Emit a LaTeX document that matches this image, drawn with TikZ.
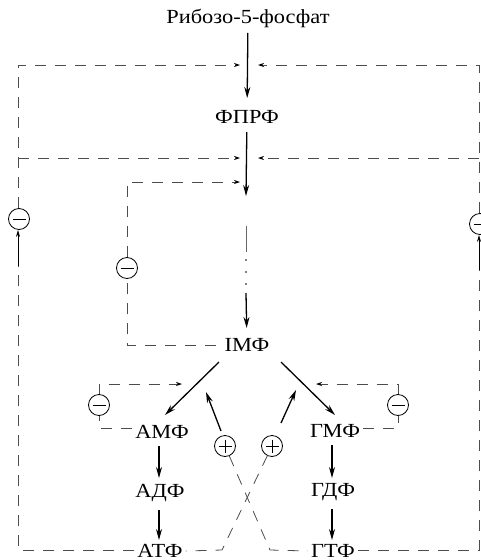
\documentclass[tikz,border=0pt]{standalone}
\usepackage{fontspec}
\setmainfont[FakeStretch=1.12]{Liberation Serif}
\usetikzlibrary{arrows.meta,calc}
\begin{document}
\begin{tikzpicture}[x=1pt,y=-1pt,
  lbl/.style={font=\fontsize{20}{24}\selectfont, inner sep=3pt},
  main/.style={line width=1.3pt, -{Stealth[length=11pt,width=6pt]}},
  fb/.style={draw=black!70, line width=0.8pt, dash pattern=on 11pt off 9pt},
  fbtip/.style={fb, -{Stealth[length=6pt,width=4pt,black]}},
  inarrow/.style={line width=1pt, -{Stealth[length=7pt,width=4pt]}},
  sign/.style={circle, draw, line width=0.8pt, minimum size=21pt, inner sep=0pt},
  minussign/.style={sign, path picture={\draw[line width=0.8pt] ([xshift=4pt]path picture bounding box.west) -- ([xshift=-4pt]path picture bounding box.east);}},
  plussign/.style={sign, path picture={\draw[line width=0.8pt] ([xshift=4pt]path picture bounding box.west) -- ([xshift=-4pt]path picture bounding box.east); \draw[line width=0.8pt] ([yshift=-4pt]path picture bounding box.north) -- ([yshift=4pt]path picture bounding box.south);}},
]
\useasboundingbox (0,0) rectangle (481,560);

% text nodes
\node[lbl] (rib) at (248,18) {Рибозо-5-фосфат};
\node[lbl] (fprf) at (247,117) {ФПРФ};
\node[lbl] (imf) at (247,345) {IМФ};
\node[lbl] (amf) at (162,432) {АМФ};
\node[lbl] (adf) at (160,493) {АДФ};
\node[lbl] (atf) at (160,551) {АТФ};
\node[lbl] (gmf) at (335,431) {ГМФ};
\node[lbl] (gdf) at (333,492) {ГДФ};
\node[lbl] (gtf) at (333,551) {ГТФ};

% signs
\node[minussign] (mL) at (19,219) {};
\node[minussign] (mR) at (480,224) {};
\node[minussign] (mI) at (127,268) {};
\node[minussign] (mA) at (99,405) {};
\node[minussign] (mG) at (398,405) {};
\node[plussign] (pA) at (225,446) {};
\node[plussign] (pG) at (272,446) {};

% coordinates
\coordinate (a1) at (246,65);
\coordinate (a2) at (246,158);
\coordinate (a3) at (246,182);
\coordinate (c1) at (246,196);
\coordinate (d1) at (246,226);
\coordinate (d2) at (246,252);
\coordinate (d3) at (246,293);
\coordinate (tA) at (206,392);
\coordinate (tG) at (296,390);
\coordinate (tA2) at (182,384);
\coordinate (tG2) at (316,384);
\coordinate (mLin) at (18,266);
\coordinate (mRin) at (479,270);
\coordinate (xA) at (270,550);
\coordinate (xG) at (222,550);

% main pathway
\draw[main, shorten <=15pt, shorten >=19pt] (rib.center) -- (fprf.center);
\draw[main, shorten <=15pt] (fprf.center) -- (c1);
\draw[line width=0.9pt, black!60] (d1) -- (d2);
\foreach \yy in {260,272,284} \fill (246,\yy) circle (0.8pt);
\draw[main, shorten >=17pt] (d3) -- (imf.center);
\draw[main] ([shift={(-28,17)}]imf.center) -- ([shift={(3,-17)}]amf.center);
\draw[main] ([shift={(34,17)}]imf.center) -- ([shift={(0,-16)}]gmf.center);
\draw[main] ([shift={(-3,14)}]amf.center) -- ([shift={(-1,-15)}]adf.center);
\draw[main] ([shift={(-1,17)}]adf.center) -- ([shift={(-1,-11)}]atf.center);
\draw[main] ([shift={(-3,14)}]gmf.center) -- ([shift={(-1,-14)}]gdf.center);
\draw[main] ([shift={(-1,17)}]gdf.center) -- ([shift={(-1,-11)}]gtf.center);
\draw[main] ([shift={(-4,-15)}]pA.center) -- (tA);
\draw[main] ([shift={(9,-23)}]pG.center) -- (tG);

% outer feedback loops
\draw[fb] ([yshift=1pt]atf.west) -| (mLin);
\draw[inarrow] (mLin) -- (mL.south -| mLin);
\draw[fbtip, shorten >=6pt] (mL.north -| mLin) |- (a1);
\draw[fbtip, shorten >=6pt] (mLin |- a2) -- (a2);
\draw[fb] ([yshift=1pt]gtf.east) -| (mRin);
\draw[inarrow] (mRin) -- (mR.south -| mRin);
\draw[fbtip, shorten >=12pt] (mR.north -| mRin) |- (a1);
\draw[fbtip, shorten >=12pt] (mRin |- a2) -- (a2);

% inner loop from IMP
\draw[fb] ([xshift=-5pt]imf.west) -| (mI.south);
\draw[fbtip, shorten >=6pt] (mI.north) |- (a3);

% small loops
\draw[fb] ([yshift=4pt]amf.west) -| (mA.south);
\draw[fbtip] (mA.north) |- (tA2);
\draw[fb] ([yshift=3pt]gmf.east) -| (mG.south);
\draw[fbtip] (mG.north) |- (tG2);

% cross activation
\draw[fb] (pA) -- (xA) -- (gtf.west);
\draw[fb] (pG) -- (xG) -- (atf.east);
\end{tikzpicture}
\end{document}
